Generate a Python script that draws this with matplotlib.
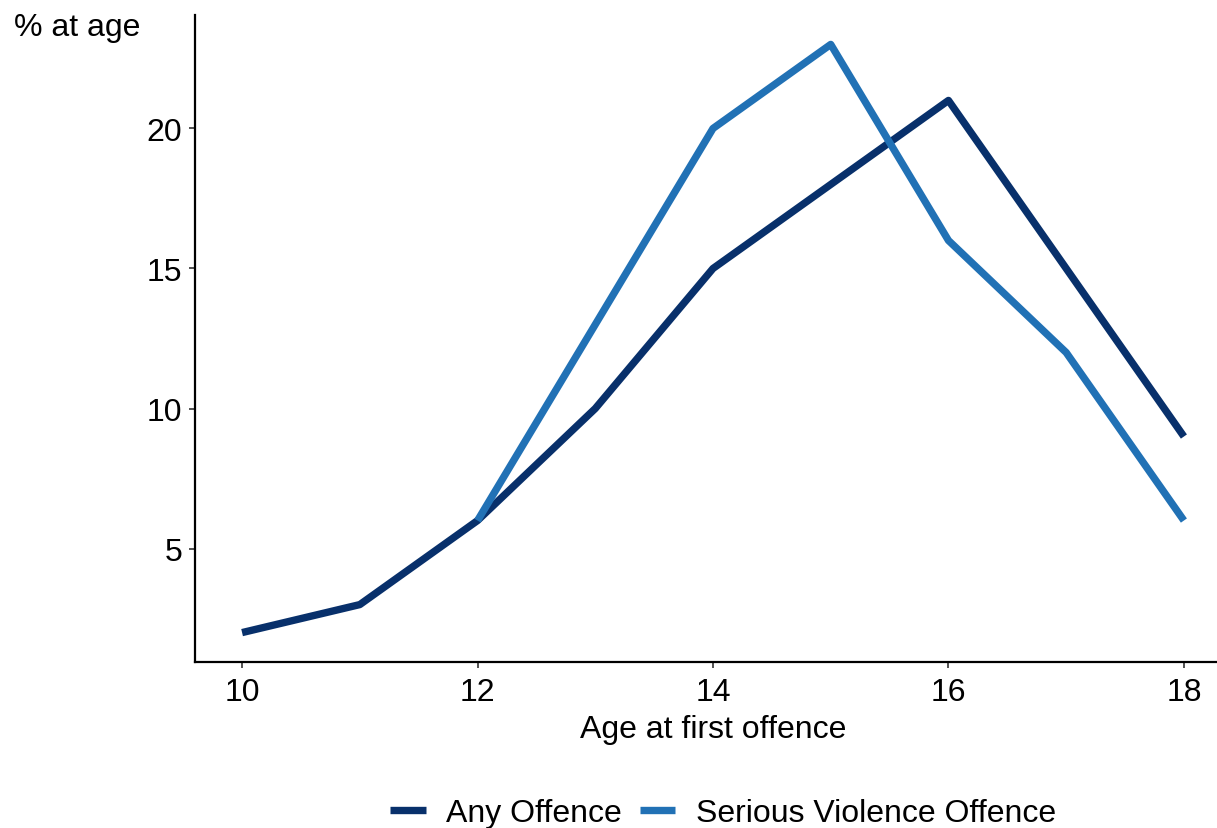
import matplotlib
matplotlib.use("Agg")
import matplotlib.pyplot as plt

plt.rcParams['font.family'] = ['Liberation Sans', 'DejaVu Sans']

ages_any = [10, 11, 12, 13, 14, 15, 16, 17, 18]
any_offence = [2, 3, 6, 10, 15, 18, 21, 15, 9]
ages_sv = [12, 13, 14, 15, 16, 17, 18]
serious_violence = [6, 13, 20, 23, 16, 12, 6]
x_ticks = [10, 12, 14, 16, 18]
y_ticks = [5, 10, 15, 20]

W, H = 1217, 829
fig = plt.figure(figsize=(W / 100, H / 100), dpi=100)
left, right, top, bottom = 195, 1231, 16, 663
ax = fig.add_axes([left / W, 1 - bottom / H, (right - left) / W, (bottom - top) / H])

ax.plot(ages_any, any_offence, color='#08306b', lw=5.3, label='Any Offence', solid_capstyle='butt')
ax.plot(ages_sv, serious_violence, color='#2171b5', lw=5.3, label='Serious Violence Offence', solid_capstyle='butt')

ax.set_xlim(9.6, 18.4)
ax.set_ylim(0.95, 24.05)
ax.set_xticks(x_ticks)
ax.set_yticks(y_ticks)
for s in ['top', 'right']:
    ax.spines[s].set_visible(False)
for s in ['left', 'bottom']:
    ax.spines[s].set_linewidth(1.6)
    ax.spines[s].set_color('black')
ax.tick_params(axis='both', labelsize=23, length=4, width=1.2, color='#333333', labelcolor='black', pad=5)
ax.tick_params(axis='x', pad=7)
ax.set_xlabel('Age at first offence', fontsize=23, labelpad=5)
fig.text(14 / W, 1 - 28 / H, '% at age', fontsize=23, ha='left', va='center')

leg = fig.legend(loc='center', bbox_to_anchor=(723 / W, 1 - 814 / H), ncol=2, frameon=False,
                 fontsize=23, handlelength=1.1, handletextpad=0.65, columnspacing=0.55)

fig.savefig('out.png', dpi=100)
